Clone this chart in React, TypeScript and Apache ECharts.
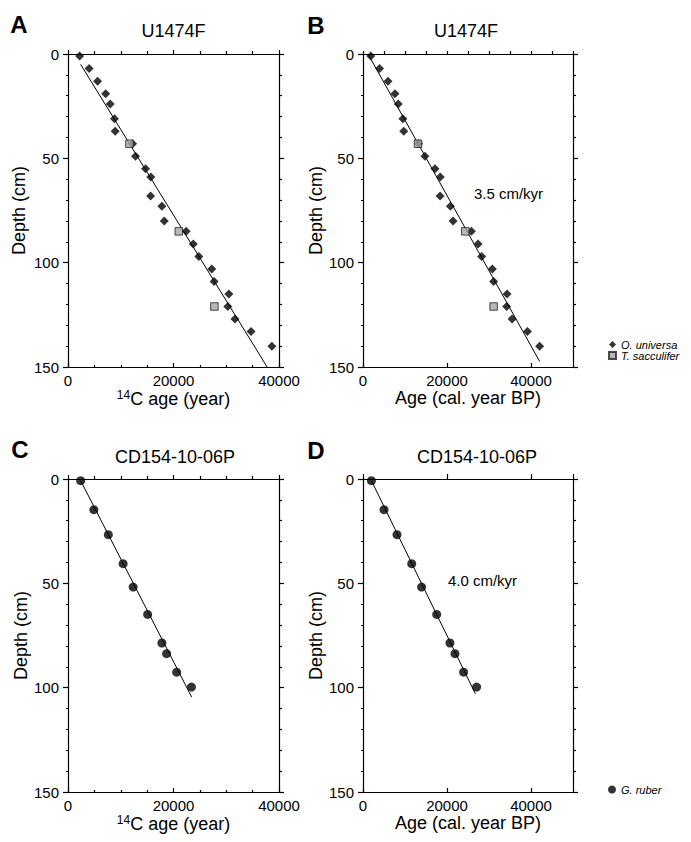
import React, { useEffect, useRef } from "react";
import * as echarts from "echarts";

// ---------- DATA ----------
// U1474F, O. universa (diamonds)
const uDepthsOU = [1, 7, 13, 19, 24, 31, 37, 43, 49, 55, 59, 68, 73, 80, 85, 91, 97, 103, 109, 115, 121, 127, 133, 140];
const uAges14cOU = [2200, 4000, 5600, 7150, 8000, 8800, 8950, 12250, 12800, 14700, 15700, 15650, 17800, 18250, 22400, 23750, 24800, 27250, 27700, 30500, 30300, 31650, 34700, 38650];
const uAgesCalOU = [1850, 3950, 5950, 7600, 8400, 9500, 9700, 13250, 14750, 17150, 18400, 18350, 20800, 21450, 25800, 27400, 28250, 30800, 31100, 34300, 34200, 35500, 39150, 42050];
// U1474F, T. sacculifer (squares)
const uDepthsTS = [43, 85, 121];
const uAges14cTS = [11650, 21000, 27750];
const uAgesCalTS = [13100, 24350, 31100];
// U1474F regression lines [age, depth]
const uLine14c = [[2400, 5], [37750, 150]];
const uLineCal = [[1200, 0], [42050, 147.3]];

// CD154-10-06P, G. ruber (circles)
const cDepths = [0.8, 14.7, 26.7, 40.6, 51.8, 64.9, 78.6, 83.7, 92.6, 99.7];
const cAges14c = [2400, 4900, 7650, 10450, 12350, 15100, 17800, 18700, 20600, 23400];
const cAgesCal = [2000, 5000, 8100, 11600, 13950, 17550, 20700, 21900, 23950, 27050];
const cLine14c = [[2400, 0.8], [23450, 104.5]];
const cLineCal = [[2000, 0.8], [26750, 102.9]];

const depthTicks = { min: 0, max: 150, interval: 50 };
const ageMax14c = 40000;
const ageMaxCal = 50000;

const panelTitles = ["U1474F", "U1474F", "CD154-10-06P", "CD154-10-06P"];
const panelLetters = ["A", "B", "C", "D"];
const rateLabels = ["3.5 cm/kyr", "4.0 cm/kyr"];
const legendNames = ["O. universa", "T. sacculifer", "G. ruber"];

// ---------- STYLE ----------
const FONT = "'Liberation Sans', Arial, Helvetica, sans-serif";
const AX = { color: "#000", width: 1.2 };

const grids = [
  { left: 68, top: 54, width: 211, height: 313 },
  { left: 363, top: 54, width: 210, height: 313 },
  { left: 68, top: 479, width: 211, height: 313 },
  { left: 363, top: 479, width: 210, height: 313 },
];

const pair = (xs: number[], ys: number[]) => xs.map((x, i) => [x, ys[i]]);

const sup14Name = (txt: string) => "{s|14}{n|" + txt + "}";

function bottomX(g: number, max: number, minor: boolean, name: string, nameGap: number, rich: boolean) {
  return {
    type: "value",
    gridIndex: g,
    position: "bottom",
    min: 0,
    max,
    interval: 20000,
    axisLine: { show: true, onZero: false, lineStyle: AX },
    axisTick: { show: true, inside: true, length: 4, lineStyle: AX },
    minorTick: { show: minor, splitNumber: 4, length: 2, lineStyle: AX },
    splitLine: { show: false },
    minorSplitLine: { show: false },
    axisLabel: {
      show: true,
      margin: 6,
      fontSize: 15,
      color: "#000",
      fontFamily: FONT,
      showMinLabel: true,
      showMaxLabel: max === 40000,
      formatter: (v: number) => String(v),
    },
    name,
    nameLocation: "middle",
    nameGap,
    nameTextStyle: rich
      ? {
          color: "#000",
          fontFamily: FONT,
          fontSize: 18,
          rich: {
            s: { fontSize: 12, fontFamily: FONT, color: "#000", verticalAlign: "top", lineHeight: 18 },
            n: { fontSize: 18, fontFamily: FONT, color: "#000", lineHeight: 20 },
          },
        }
      : { color: "#000", fontFamily: FONT, fontSize: 18 },
  };
}

function topX(g: number, max: number, interval: number, len: number, minor: boolean) {
  return {
    type: "value",
    gridIndex: g,
    position: "top",
    min: 0,
    max,
    interval,
    axisLine: { show: true, onZero: false, lineStyle: AX },
    axisTick: { show: true, inside: false, length: len, lineStyle: AX },
    minorTick: { show: minor, splitNumber: 4, length: 3, lineStyle: AX },
    splitLine: { show: false },
    axisLabel: { show: false },
  };
}

function leftY(g: number, nameGap: number) {
  return {
    type: "value",
    gridIndex: g,
    position: "left",
    inverse: true,
    ...depthTicks,
    axisLine: { show: true, onZero: false, lineStyle: AX },
    axisTick: { show: true, inside: false, length: 5, lineStyle: AX },
    minorTick: { show: true, splitNumber: 5, length: 2, lineStyle: AX },
    splitLine: { show: false },
    axisLabel: { show: true, margin: 9, fontSize: 15, color: "#000", fontFamily: FONT },
    name: "Depth (cm)",
    nameLocation: "middle",
    nameGap,
    nameRotate: 90,
    nameTextStyle: { color: "#000", fontFamily: FONT, fontSize: 18 },
  };
}

function rightY(g: number) {
  return {
    type: "value",
    gridIndex: g,
    position: "right",
    inverse: true,
    ...depthTicks,
    axisLine: { show: true, onZero: false, lineStyle: AX },
    axisTick: { show: true, inside: false, length: 5, lineStyle: AX },
    minorTick: { show: true, splitNumber: 5, length: 3, lineStyle: AX },
    splitLine: { show: false },
    axisLabel: { show: false },
  };
}

function lineSeries(g: number, data: number[][]) {
  return {
    type: "line",
    xAxisIndex: 2 * g,
    yAxisIndex: 2 * g,
    data,
    symbol: "none",
    silent: true,
    lineStyle: { color: "#000", width: 1 },
    z: 2,
  };
}

function scatter(g: number, name: string, data: number[][], kind: "d" | "s" | "c") {
  const base: any = {
    type: "scatter",
    name,
    xAxisIndex: 2 * g,
    yAxisIndex: 2 * g,
    data,
    z: kind === "s" ? 4 : 3,
  };
  if (kind === "d") {
    base.symbol = "diamond";
    base.symbolSize = 9;
    base.itemStyle = { color: "#000" };
  } else if (kind === "s") {
    base.symbol = "rect";
    base.symbolSize = 7.5;
    base.itemStyle = { color: "#a6a6a6", borderColor: "#222", borderWidth: 1 };
  } else {
    base.symbol = "circle";
    base.symbolSize = 9;
    base.itemStyle = { color: "#000" };
  }
  return base;
}

function txt(text: string, x: number, y: number, size: number, weight = "normal", align = "center") {
  return {
    type: "text",
    x,
    y,
    silent: true,
    style: {
      text,
      fill: "#000",
      fontSize: size,
      fontWeight: weight,
      fontFamily: FONT,
      textAlign: align,
      textVerticalAlign: "middle",
    },
  };
}

const legendText = { color: "#000", fontFamily: FONT, fontSize: 11, fontStyle: "italic", lineHeight: 11 };

const option: any = {
  animation: false,
  backgroundColor: "#fff",
  grid: grids.map((g) => ({ ...g, containLabel: false })),
  xAxis: [
    bottomX(0, ageMax14c, true, sup14Name("C age (year)"), 20, true),
    topX(0, ageMax14c, 20000, 4, true),
    bottomX(1, ageMaxCal, false, "Age (cal. year BP)", 21, false),
    topX(1, ageMaxCal, 5000, 3, false),
    bottomX(2, ageMax14c, true, sup14Name("C age (year)"), 21, true),
    topX(2, ageMax14c, 20000, 4, true),
    bottomX(3, ageMaxCal, false, "Age (cal. year BP)", 22, false),
    topX(3, ageMaxCal, 20000, 5, false),
  ],
  yAxis: [leftY(0, 40), rightY(0), leftY(1, 37), rightY(1), leftY(2, 37), rightY(2), leftY(3, 37), rightY(3)],
  legend: [
    {
      data: [legendNames[0], legendNames[1]],
      orient: "vertical",
      left: 608,
      top: 339,
      padding: 0,
      itemGap: 0,
      itemWidth: 7,
      itemHeight: 7,
      selectedMode: false,
      textStyle: legendText,
    },
    {
      data: [legendNames[2]],
      orient: "vertical",
      left: 608,
      top: 784,
      padding: 0,
      itemGap: 0,
      itemWidth: 8,
      itemHeight: 8,
      selectedMode: false,
      textStyle: legendText,
    },
  ],
  series: [
    lineSeries(0, uLine14c),
    scatter(0, legendNames[0], pair(uAges14cOU, uDepthsOU), "d"),
    scatter(0, legendNames[1], pair(uAges14cTS, uDepthsTS), "s"),
    lineSeries(1, uLineCal),
    scatter(1, legendNames[0], pair(uAgesCalOU, uDepthsOU), "d"),
    scatter(1, legendNames[1], pair(uAgesCalTS, uDepthsTS), "s"),
    lineSeries(2, cLine14c),
    scatter(2, legendNames[2], pair(cAges14c, cDepths), "c"),
    lineSeries(3, cLineCal),
    scatter(3, legendNames[2], pair(cAgesCal, cDepths), "c"),
  ],
  graphic: [
    txt(panelLetters[0], 19, 24, 24, "bold"),
    txt(panelLetters[1], 316, 25, 24, "bold"),
    txt(panelLetters[2], 20, 449, 24, "bold"),
    txt(panelLetters[3], 316, 450, 24, "bold"),
    txt(panelTitles[0], 173.5, 31, 18),
    txt(panelTitles[1], 466, 31, 18),
    txt(panelTitles[2], 175, 457, 18),
    txt(panelTitles[3], 477, 457, 18),
    txt(rateLabels[0], 508.5, 193, 15),
    txt(rateLabels[1], 482.5, 580, 15),
  ],
};

export default function App() {
  const ref = useRef<HTMLDivElement>(null);
  useEffect(() => {
    document.body.style.margin = "0";
    const chart = echarts.init(ref.current!, null, { renderer: "svg" });
    chart.setOption(option);
    return () => chart.dispose();
  }, []);
  return <div ref={ref} style={{ width: 691, height: 842 }} />;
}
